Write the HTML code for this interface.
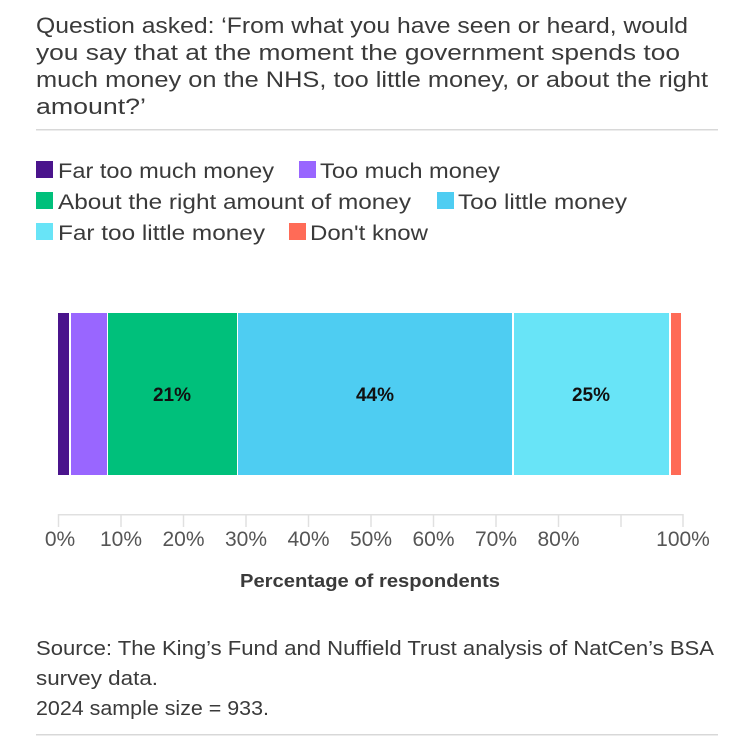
<!DOCTYPE html>
<html><head><meta charset="utf-8"><style>
html,body{margin:0;padding:0;background:#fff;}
svg{display:block;font-family:"Liberation Sans",sans-serif;}
</style></head><body>
<svg width="750" height="738" viewBox="0 0 750 738">
<g fill="#3a3a3a" font-size="22">
<text x="36" y="33" textLength="652" lengthAdjust="spacingAndGlyphs">Question asked: ‘From what you have seen or heard, would</text>
<text x="36" y="60" textLength="644" lengthAdjust="spacingAndGlyphs">you say that at the moment the government spends too</text>
<text x="36" y="87" textLength="672" lengthAdjust="spacingAndGlyphs">much money on the NHS, too little money, or about the right</text>
<text x="36" y="114" textLength="110" lengthAdjust="spacingAndGlyphs">amount?’</text>
</g>
<rect x="36" y="129" width="682" height="1.5" fill="#d8d8d8"/>
<g font-size="21" fill="#3a3a3a">
<rect x="36" y="161" width="17" height="17" fill="#4a148c"/>
<text x="58" y="178" textLength="216" lengthAdjust="spacingAndGlyphs">Far too much money</text>
<rect x="299" y="161" width="17" height="17" fill="#9966ff"/>
<text x="320" y="178" textLength="180" lengthAdjust="spacingAndGlyphs">Too much money</text>
<rect x="36" y="192" width="17" height="17" fill="#00c07b"/>
<text x="58" y="209" textLength="353" lengthAdjust="spacingAndGlyphs">About the right amount of money</text>
<rect x="437" y="192" width="17" height="17" fill="#4ecdf2"/>
<text x="458" y="209" textLength="169" lengthAdjust="spacingAndGlyphs">Too little money</text>
<rect x="36" y="223" width="17" height="17" fill="#68e4f7"/>
<text x="58" y="240" textLength="207" lengthAdjust="spacingAndGlyphs">Far too little money</text>
<rect x="289" y="223" width="17" height="17" fill="#ff6b57"/>
<text x="310" y="240" textLength="118" lengthAdjust="spacingAndGlyphs">Don't know</text>
</g>
<g>
<rect x="58" y="313" width="11" height="162" fill="#4a148c"/>
<rect x="71" y="313" width="36" height="162" fill="#9966ff"/>
<rect x="108" y="313" width="129" height="162" fill="#00c07b"/>
<rect x="238" y="313" width="274" height="162" fill="#4ecdf2"/>
<rect x="514" y="313" width="155" height="162" fill="#68e4f7"/>
<rect x="671" y="313" width="10" height="162" fill="#ff6b57"/>
</g>
<g font-size="19" font-weight="bold" fill="#111" text-anchor="middle">
<text x="172" y="401">21%</text>
<text x="375" y="401">44%</text>
<text x="591" y="401">25%</text>
</g>
<rect x="58" y="514" width="625" height="1.5" fill="#e0e0e0"/>
<g stroke="#e0e0e0" stroke-width="1.5">
<line x1="58.5" y1="514" x2="58.5" y2="527"/><line x1="121" y1="514" x2="121" y2="527"/><line x1="183.5" y1="514" x2="183.5" y2="527"/><line x1="246" y1="514" x2="246" y2="527"/><line x1="308.5" y1="514" x2="308.5" y2="527"/><line x1="371" y1="514" x2="371" y2="527"/><line x1="433.5" y1="514" x2="433.5" y2="527"/><line x1="496" y1="514" x2="496" y2="527"/><line x1="558.5" y1="514" x2="558.5" y2="527"/><line x1="621" y1="514" x2="621" y2="527"/><line x1="683" y1="514" x2="683" y2="527"/>
</g>
<g font-size="21" fill="#555" text-anchor="middle">
<text x="60" y="546">0%</text><text x="121" y="546">10%</text><text x="183.5" y="546">20%</text><text x="246" y="546">30%</text><text x="308.5" y="546">40%</text><text x="371" y="546">50%</text><text x="433.5" y="546">60%</text><text x="496" y="546">70%</text><text x="558.5" y="546">80%</text><text x="683" y="546">100%</text>
</g>
<text x="370" y="587" font-size="18" font-weight="bold" fill="#3a3a3a" text-anchor="middle" textLength="260" lengthAdjust="spacingAndGlyphs">Percentage of respondents</text>
<g font-size="20" fill="#3a3a3a">
<text x="36" y="655" textLength="678" lengthAdjust="spacingAndGlyphs">Source: The King’s Fund and Nuffield Trust analysis of NatCen’s BSA</text>
<text x="36" y="685" textLength="122" lengthAdjust="spacingAndGlyphs">survey data.</text>
<text x="36" y="715" textLength="233" lengthAdjust="spacingAndGlyphs">2024 sample size = 933.</text>
</g>
<rect x="36" y="734" width="682" height="1.5" fill="#d8d8d8"/>
</svg>
</body></html>
